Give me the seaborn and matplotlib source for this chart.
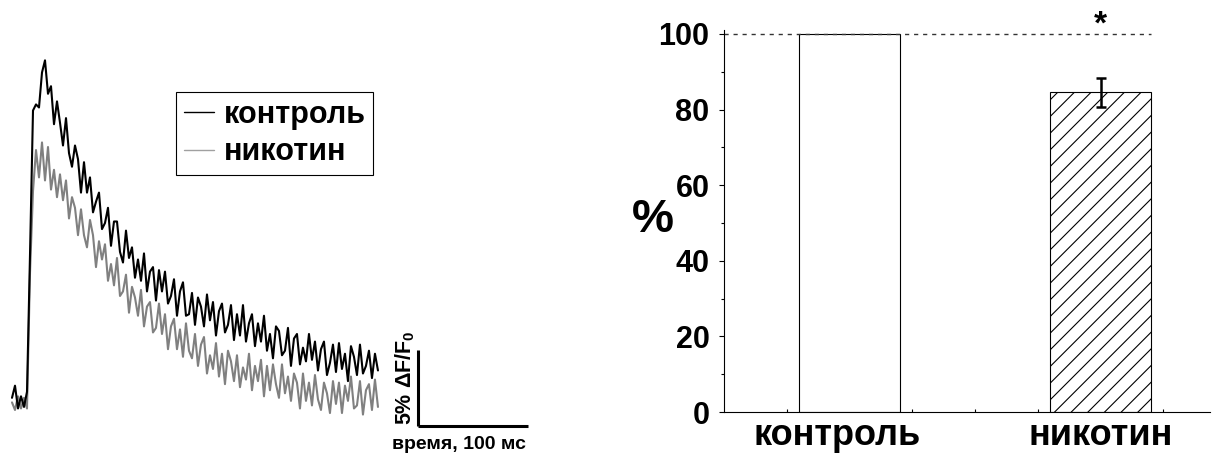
import numpy as np
import matplotlib
matplotlib.use("Agg")
import matplotlib.pyplot as plt
from matplotlib.ticker import FixedLocator
from matplotlib.transforms import ScaledTranslation
import seaborn as sns

# ---------------- data ----------------
# left panel: Ca-transient traces, dF/F0 in %, sampled every dt_ms
dt_ms = 2.727
control_trace = [
    0.8, 1.6, 0.1, 0.9, 0.2, 1.2, 10.2,
    19.7, 20.1, 19.9, 22.2, 23.0, 20.8, 21.3, 18.8, 20.3, 18.9,
    17.4, 19.2, 16.9, 16.0, 17.4, 16.5, 14.3, 16.3, 14.3, 15.3,
    13.0, 13.7, 14.3, 11.9, 12.3, 13.3, 10.8, 12.4, 12.4, 10.4,
    9.7, 11.8, 10.0, 10.7, 8.7, 9.9, 8.5, 10.3, 7.8, 9.1,
    9.4, 7.2, 9.2, 7.8, 9.1, 7.0, 7.5, 8.6, 6.2, 7.8,
    8.4, 6.2, 6.3, 7.7, 5.6, 7.4, 6.8, 5.5, 7.6, 5.9,
    7.1, 4.9, 6.5, 7.0, 5.1, 5.6, 6.9, 4.6, 6.3, 4.9,
    6.9, 4.5, 5.7, 6.3, 4.2, 5.7, 4.5, 6.2, 3.9, 5.0,
    3.4, 5.5, 5.2, 3.6, 3.9, 5.4, 2.9, 4.7, 5.0, 3.0,
    4.1, 3.2, 5.0, 3.3, 4.5, 2.6, 4.0, 4.5, 2.3, 3.1,
    4.3, 2.5, 4.4, 2.7, 3.7, 1.9, 4.2, 3.5, 2.3, 4.3,
    2.4, 2.9, 3.9, 2.1, 3.7, 2.6,
]
nicotine_trace = [
    0.5, 0.0, 0.9, 0.1, 0.8, 0.1, 9.0,
    14.4, 17.1, 15.3, 17.6, 15.1, 17.3, 14.5, 15.8, 14.0, 15.5,
    13.8, 15.1, 12.6, 14.0, 13.3, 11.5, 13.2, 11.5, 10.7, 12.5,
    11.5, 9.4, 11.1, 9.9, 10.9, 8.5, 9.6, 8.2, 10.0, 7.5,
    7.8, 8.9, 6.4, 8.1, 7.4, 6.2, 7.9, 5.5, 6.8, 7.1,
    5.1, 5.4, 7.0, 5.0, 6.3, 4.0, 5.5, 6.0, 4.0, 5.3,
    3.5, 5.7, 3.9, 3.4, 5.0, 2.9, 4.3, 4.8, 2.4, 3.6,
    2.7, 4.4, 2.2, 3.7, 1.7, 3.9, 3.2, 1.9, 3.6, 1.5,
    2.8, 2.0, 3.7, 1.3, 2.9, 1.9, 3.3, 0.9, 2.9, 1.3,
    3.0, 1.7, 0.8, 3.0, 1.1, 2.2, 0.6, 2.4, 1.8, 0.1,
    2.4, 0.6, 1.8, 0.3, 2.3, 0.7, 0.0, 1.8, 1.1, -0.2,
    1.9, 0.4, 1.8, -0.2, 1.6, 0.6, 2.2, 0.1, 0.3, 1.9,
    -0.3, 1.3, 1.7, 0.0, 2.0, 0.2,
]
trace_labels = ["контроль", "никотин"]
scale_time_ms = 100
scale_df_pct = 5

# right panel: bar chart
groups = ["контроль", "никотин"]
percent = [100.0, 84.6]
sem = [0.0, 3.8]
reference_level = 100
y_ticks = [0, 20, 40, 60, 80, 100]

# ---------------- style ----------------
sns.set_style("white")
plt.rcParams["font.family"] = ["Liberation Sans", "DejaVu Sans"]
plt.rcParams["font.weight"] = "bold"
plt.rcParams["mathtext.fontset"] = "custom"
plt.rcParams["mathtext.bf"] = "Liberation Sans:bold"
plt.rcParams["mathtext.rm"] = "Liberation Sans:bold"
plt.rcParams["hatch.linewidth"] = 0.8
for k in ("text.color", "axes.labelcolor", "xtick.color", "ytick.color", "axes.edgecolor"):
    plt.rcParams[k] = "black"

fig = plt.figure(figsize=(12.19, 4.54), dpi=100)
fig.patch.set_facecolor("white")

# ---------------- left panel ----------------
axL = fig.add_axes([0, 0, 540 / 1219, 1])
time_ms = np.arange(len(control_trace)) * dt_ms
sns.lineplot(x=time_ms, y=nicotine_trace, color="#808080", lw=1.5, label=trace_labels[1], ax=axL)
sns.lineplot(x=time_ms, y=control_trace, color="black", lw=1.5, label=trace_labels[0], ax=axL)
axL.set_xlim(-10.91, 480)
axL.set_ylim(-2.895, 26.97)
axL.axis("off")

h, l = axL.get_legend_handles_labels()
leg = axL.legend([h[1], h[0]], [l[1], l[0]], loc="upper left", bbox_to_anchor=(0.326, 0.797),
                 fontsize=22, frameon=True, fancybox=False, framealpha=1, edgecolor="black",
                 borderpad=0.25, handlelength=1.0, handletextpad=0.3, labelspacing=0.25,
                 borderaxespad=0)
leg.get_frame().set_linewidth(0.8)
for line in leg.get_lines():
    line.set_linewidth(1.0)
leg.get_lines()[1].set_color("#a0a0a0")

# scale bar
sb_x0, sb_y0 = 369.1, -1.05
axL.plot([sb_x0, sb_x0 + scale_time_ms], [sb_y0, sb_y0], color="black", lw=2.2,
         solid_capstyle="butt")
axL.plot([sb_x0, sb_x0], [sb_y0, sb_y0 + scale_df_pct], color="black", lw=2.2,
         solid_capstyle="butt")
axL.text(345.5, -2.57, f"время, {scale_time_ms} мс", ha="left", va="baseline",
         fontsize=14, fontweight="bold")
axL.text(357.3, 2.15, f"{scale_df_pct}% ΔF/F$_\\mathbf{{0}}$", rotation=90,
         ha="center", va="center", fontsize=15.5, fontweight="bold")

# ---------------- right panel ----------------
axR = fig.add_axes([724 / 1219, 42 / 454, 486 / 1219, 381.8 / 454])
sns.barplot(x=groups, y=percent, ax=axR, width=0.4, color="white", edgecolor="black",
            linewidth=0.8, saturation=1, errorbar=None)
axR.patches[1].set_hatch("//")
axR.errorbar([1], [percent[1]], yerr=[sem[1]], fmt="none", ecolor="black",
             elinewidth=1.8, capsize=3.5, capthick=1.8)
axR.axhline(reference_level, xmin=0, xmax=(1.2 + 0.5) / 1.936, color="#333333",
            lw=1.0, ls=(0, (3, 3.5)))
axR.text(1.0, 102.4, "*", ha="center", va="center", fontsize=24, fontweight="bold")

axR.set_xlim(-0.5, 1.436)
axR.set_ylim(0, 101)
axR.set_yticks(y_ticks)
axR.yaxis.set_minor_locator(FixedLocator([10, 30, 50, 70, 90]))
axR.xaxis.set_minor_locator(FixedLocator([-0.25, 0.25, 0.5, 0.75, 1.25]))
axR.tick_params(axis="y", which="major", direction="out", length=3.5, width=0.8,
                labelsize=22, pad=7, left=True)
axR.tick_params(axis="y", which="minor", direction="out", length=2.5, width=0.8, left=True)
axR.tick_params(axis="x", which="major", length=0, pad=4, labelsize=26)
axR.tick_params(axis="x", which="minor", direction="in", length=2.5, width=0.8, bottom=True)
for lab in axR.get_xticklabels() + axR.get_yticklabels():
    lab.set_fontweight("bold")
first = axR.get_xticklabels()[0]
first.set_transform(first.get_transform() + ScaledTranslation(-0.12, 0, fig.dpi_scale_trans))
axR.set_xlabel("")
axR.set_ylabel("%", rotation=0, fontsize=34, fontweight="bold", ha="center", va="center")
axR.yaxis.set_label_coords(-0.146, 0.503)
sns.despine(ax=axR)
for s in ("left", "bottom"):
    axR.spines[s].set_linewidth(0.8)
    axR.spines[s].set_color("black")

fig.savefig("out.png", dpi=100, facecolor="white")
